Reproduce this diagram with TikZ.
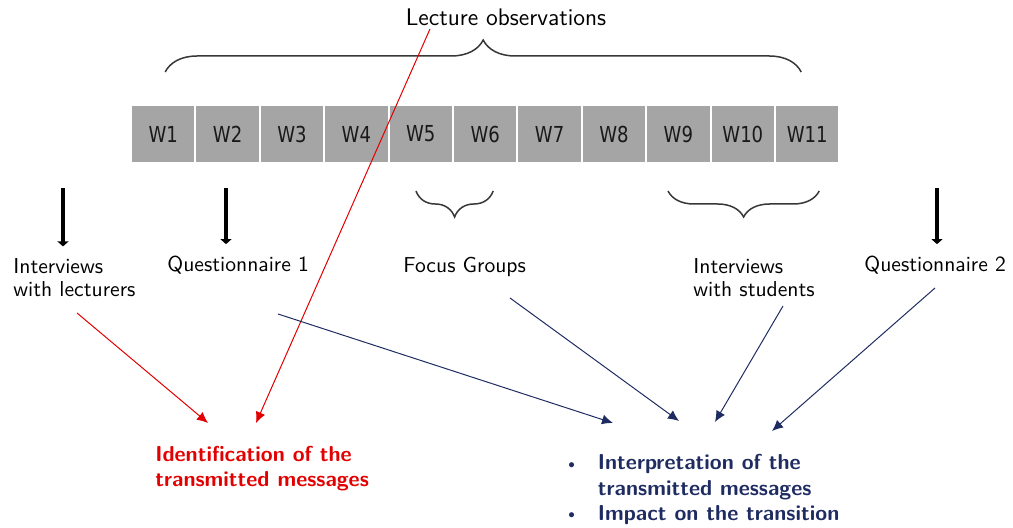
\documentclass[tikz,border=0pt]{standalone}
\usepackage{fontspec}
\usetikzlibrary{positioning,arrows.meta,decorations.pathreplacing}
\newfontfamily\weekfont[FakeStretch=0.82]{DejaVu Sans}
\definecolor{obsred}{RGB}{226,0,0}
\definecolor{obsnavy}{RGB}{31,44,98}
\definecolor{weekgray}{RGB}{165,165,165}
\definecolor{bracegray}{RGB}{55,55,55}
\newcommand{\dotbullet}{\raisebox{0.15ex}{\scalebox{0.6}{$\bullet$}}}

\begin{document}
\begin{tikzpicture}[x=0.5pt,y=-0.5pt,
        font=\sffamily,
        week/.style={fill=weekgray,draw=white,line width=1pt,outer sep=0pt,
            minimum width=32.2pt,minimum height=29pt,inner sep=0pt,
            font=\weekfont\fontsize{11}{13}\selectfont,text=black!90},
        lbl/.style={font=\sffamily\fontsize{10.8}{11.6}\selectfont,align=left,inner sep=0pt,anchor=base west},
        result/.style={font=\sffamily\bfseries\fontsize{10.8}{12.6}\selectfont,align=left,inner sep=0pt,anchor=base west},
        bracket/.style={draw=bracegray,line width=0.75pt,decorate},
        bigarrow/.style={line width=2pt,-{Triangle[length=2.5pt,width=5.5pt]},shorten >=6pt},
        redarrow/.style={draw=obsred,line width=0.5pt,-{Latex[length=5.5pt,width=5pt]}},
        navyarrow/.style={draw=obsnavy,line width=0.5pt,-{Latex[length=5.5pt,width=5pt]}}]
            \useasboundingbox (0,0) rectangle (1013,528);
            \node [week] (w1) at (163.2,134) {W1};
            \foreach \i [count=\j] in {2,...,11}
                \node [week, right=0pt of w\j] (w\i) {W\i};
            \node [anchor=base,font=\sffamily\fontsize{12}{14}\selectfont,inner sep=0pt] (lecobs) at (506,26) {Lecture observations};
            \draw [bracket,decoration={brace,amplitude=16pt}]
                ([xshift=1pt,yshift=16.5pt]w1.north) -- ([xshift=-3pt,yshift=16.5pt]w11.north);
            \draw [bracket,decoration={brace,amplitude=13pt}]
                ([xshift=4pt,yshift=-14pt]w6.south) -- ([xshift=-2.4pt,yshift=-14pt]w5.south);
            \draw [bracket,decoration={brace,amplitude=13pt}]
                ([xshift=6pt,yshift=-14pt]w11.south) -- ([xshift=-5.2pt,yshift=-14pt]w9.south);
            \node [lbl] (intlec) at (13,297) {Interviews\\with lecturers};
            \node [lbl] (quest1) at (167,272) {Questionnaire 1};
            \node [lbl] (focus) at (403,273) {Focus Groups};
            \node [lbl] (intstu) at (693,297) {Interviews\\with students};
            \node [lbl] (quest2) at (864,272) {Questionnaire 2};
            \node [result,text=obsred] (ident) at (155,487) {Identification of the\\transmitted messages};
            \node [result,text=obsnavy] (interp) at (568,470) {\begin{tabular}[t]{@{}l@{\hspace{11.5pt}}l@{}}
                \dotbullet & Interpretation of the\\
                           & transmitted messages\\
                \dotbullet & Impact on the transition
            \end{tabular}};
            \coordinate (intlectop) at (63,188);
            \coordinate (quest1top) at (226,188);
            \coordinate (quest2top) at (937,188);
            \draw [bigarrow] (intlectop) -- (intlectop |- intlec.north);
            \draw [bigarrow] (quest1top) -- (quest1top |- quest1.north);
            \draw [bigarrow] (quest2top) -- (quest2top |- quest2.north);
            \coordinate (intlecout) at (77,313);
            \coordinate (lecobsout) at (430,29);
            \coordinate (quest1out) at (278,314);
            \coordinate (focusout) at (510,298);
            \coordinate (intstuout) at (783,306);
            \coordinate (quest2out) at (935,288);
            \coordinate (identin1) at (208,423);
            \coordinate (identin2) at (256,423);
            \coordinate (interpin1) at (613,423);
            \coordinate (interpin2) at (679,421);
            \coordinate (interpin3) at (715,422);
            \coordinate (interpin4) at (772,431);
            \draw [redarrow] (intlecout) -- (identin1);
            \draw [redarrow] (lecobsout) -- (identin2);
            \draw [navyarrow] (quest1out) -- (interpin1);
            \draw [navyarrow] (focusout) -- (interpin2);
            \draw [navyarrow] (intstuout) -- (interpin3);
            \draw [navyarrow] (quest2out) -- (interpin4);
\end{tikzpicture}
\end{document}
